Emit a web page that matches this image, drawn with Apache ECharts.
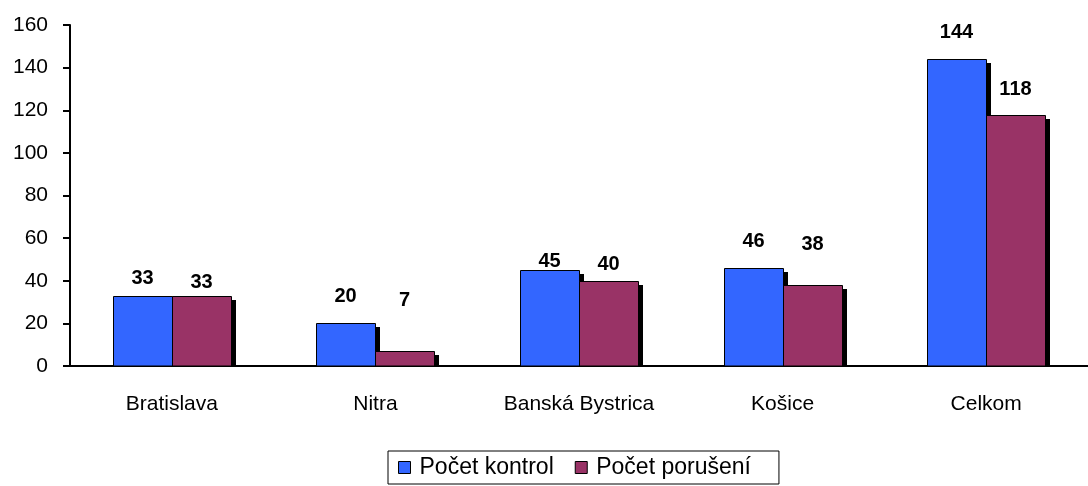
<!DOCTYPE html>
<html>
<head>
<meta charset="utf-8">
<script src="https://cdn.jsdelivr.net/npm/echarts@6/dist/echarts.min.js"></script>
<style>
  html, body { margin: 0; padding: 0; background: #fff; }
  #chart { width: 1088px; height: 486px; }
</style>
</head>
<body>
<div id="chart"></div>
<script>
// 数据
const categories = ['Bratislava', 'Nitra', 'Banská Bystrica', 'Košice', 'Celkom'];
const kontrolValues = [33, 20, 45, 46, 144];
const poruseniValues = [33, 7, 40, 38, 118];
const yTicks = [0, 20, 40, 60, 80, 100, 120, 140, 160];

// 数据标签的垂直偏移（与原图对齐）
const kontrolLabelShift = [-5, -14, 4, -14, -14];
const poruseniLabelShift = [-1, -38, -4, -28, -13];

const FONT = 'Arial, "Liberation Sans", sans-serif';
const BAR_W = 59;
const SHADOW_X = 5;
const SHADOW_Y = 4;

const myChart = echarts.init(document.getElementById('chart'));

/**
 * 生成带阴影的柱子
 * @param {Number} side -1 在类目中心左侧，1 在右侧
 * @param {String} color 填充色
 * @param {Array} shifts 标签偏移
 */
function renderBar(side, color, shifts) {
  return function (params, api) {
    const idx = api.value(0);
    const val = api.value(1);
    const top = api.coord([idx, val]);
    const base = api.coord([idx, 0]);
    const x = Math.round(side < 0 ? top[0] - BAR_W : top[0]);
    const y = Math.round(top[1]);
    const h = Math.round(base[1]) - y;
    return {
      type: 'group',
      children: [
        {
          type: 'rect',
          shape: { x: x + SHADOW_X, y: y + SHADOW_Y, width: BAR_W, height: Math.max(h - SHADOW_Y, 0) },
          style: { fill: '#000' }
        },
        {
          type: 'rect',
          shape: { x: x + 0.5, y: y + 0.5, width: BAR_W, height: h - 0.5 },
          style: { fill: color, stroke: '#000', lineWidth: 1 }
        },
        {
          type: 'text',
          style: {
            text: String(val),
            x: x + BAR_W / 2,
            y: y - 13 + shifts[params.dataIndex],
            align: 'center',
            verticalAlign: 'middle',
            fontFamily: FONT,
            fontSize: 20,
            fontWeight: 'bold',
            fill: '#000'
          }
        }
      ]
    };
  };
}

const option = {
  animation: false,
  grid: {
    left: 70,
    right: 0,
    top: 25,
    bottom: 120
  },
  legend: {
    left: 388,
    bottom: 2,
    padding: [5, 28, 5, 10],
    itemGap: 21,
    itemWidth: 12,
    itemHeight: 12,
    icon: 'rect',
    borderColor: '#000',
    borderWidth: 1,
    textStyle: {
      color: '#000',
      fontFamily: FONT,
      fontSize: 23,
      padding: [0, 0, 0, 4]
    },
    itemStyle: { borderColor: '#000', borderWidth: 1 },
    data: ['Počet kontrol', 'Počet porušení']
  },
  xAxis: {
    type: 'category',
    data: categories,
    axisLine: { lineStyle: { color: '#000', width: 2 } },
    axisTick: { length: 9, lineStyle: { color: '#000', width: 2 } },
    axisLabel: {
      color: '#000',
      fontFamily: FONT,
      fontSize: 21,
      margin: 28
    }
  },
  yAxis: {
    type: 'value',
    min: yTicks[0],
    max: yTicks[yTicks.length - 1],
    interval: yTicks[1] - yTicks[0],
    splitLine: { show: false },
    axisLine: { show: true, lineStyle: { color: '#000', width: 2 } },
    axisTick: { show: true, length: 7, lineStyle: { color: '#000', width: 2 } },
    axisLabel: {
      color: '#000',
      fontFamily: FONT,
      fontSize: 21,
      margin: 22
    }
  },
  series: [
    {
      name: 'Počet kontrol',
      type: 'custom',
      itemStyle: { color: '#3366FF' },
      encode: { x: 0, y: 1 },
      renderItem: renderBar(-1, '#3366FF', kontrolLabelShift),
      data: kontrolValues.map((v, i) => [i, v])
    },
    {
      name: 'Počet porušení',
      type: 'custom',
      itemStyle: { color: '#993366' },
      encode: { x: 0, y: 1 },
      renderItem: renderBar(1, '#993366', poruseniLabelShift),
      data: poruseniValues.map((v, i) => [i, v])
    }
  ]
};

myChart.setOption(option);
</script>
</body>
</html>
